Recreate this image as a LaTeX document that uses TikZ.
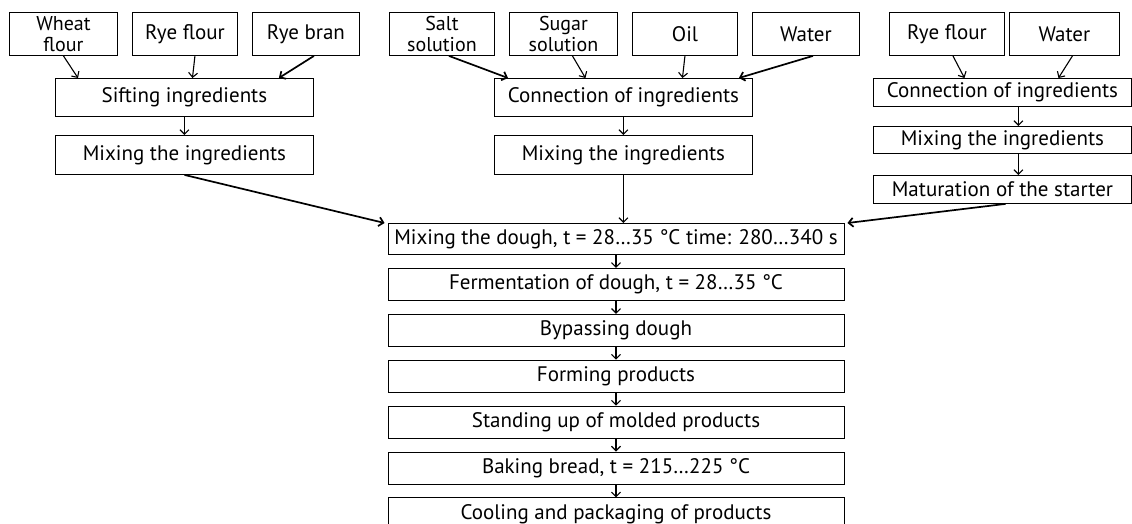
\documentclass[tikz,border=0pt]{standalone}
\usepackage{fontspec}
\setmainfont{PT Sans}
\usetikzlibrary{arrows.meta, positioning}

\begin{document}
\begin{tikzpicture}[
    x=1pt, y=-1pt,
    node distance=13pt,
    box/.style={rectangle, draw, line width=0.9pt, inner sep=0pt, align=center, anchor=north west,
        font=\fontsize{21}{18.5}\selectfont},
    twoline/.style={box, font=\fontsize{20}{20.5}\selectfont},
    stage/.style={box, anchor=north, minimum width=456pt, minimum height=32pt},
    arrow/.style={-{Straight Barb[length=4.5pt,width=9pt]}, line width=1.1pt},
    bold/.style={arrow, line width=1.7pt}
]
\clip (0,0) rectangle (1132,523);
\useasboundingbox (0,0) rectangle (1132,523);

% raw materials, left branch
\node[twoline, minimum width=108pt, minimum height=43pt] (wheat) at (9,12) {Wheat\\flour};
\node[box, minimum width=105pt, minimum height=43pt] (ryeflour) at (132,12) {Rye flour};
\node[box, minimum width=107pt, minimum height=43pt] (ryebran) at (252,12) {Rye bran};
\node[box, minimum width=258pt, minimum height=38pt] (sift) at (55,78) {Sifting ingredients};
\node[box, minimum width=258pt, minimum height=39pt] (mixL) at (55,135) {Mixing the ingredients};

% solutions, middle branch
\node[twoline, minimum width=105pt, minimum height=43pt] (salt) at (389,12) {Salt\\solution};
\node[twoline, minimum width=108pt, minimum height=43pt] (sugar) at (509,12) {Sugar\\solution};
\node[box, minimum width=105pt, minimum height=43pt] (oil) at (632,12) {Oil};
\node[box, minimum width=107pt, minimum height=43pt] (water) at (752,12) {Water};
\node[box, minimum width=258pt, minimum height=38pt] (conn) at (494,78) {Connection of ingredients};
\node[box, minimum width=258pt, minimum height=39pt] (mixM) at (494,135) {Mixing the ingredients};

% starter, right branch
\node[box, minimum width=115pt, minimum height=43pt] (ryeflourS) at (889,12) {Rye flour};
\node[box, minimum width=110pt, minimum height=43pt] (waterS) at (1009,12) {Water};
\node[box, minimum width=258pt, minimum height=28pt] (connS) at (873,78) {Connection of ingredients};
\node[box, minimum width=258pt, minimum height=27pt] (mixS) at (873,126) {Mixing the ingredients};
\node[box, minimum width=258pt, minimum height=28pt] (mature) at (873,175) {Maturation of the starter};

% main line
\node[stage, minimum height=31pt] (dough) at (616,223) {Mixing the dough, t = 28\dots35 °C time: 280\dots340 s};
\node[stage, below=of dough] (ferm) {Fermentation of dough, t = 28\dots35 °C};
\node[stage, below=of ferm] (bypass) {Bypassing dough};
\node[stage, below=of bypass] (form) {Forming products};
\node[stage, below=of form] (stand) {Standing up of molded products};
\node[stage, below=of stand] (bake) {Baking bread, t = 215\dots225 °C};
\node[stage, below=of bake] (cool) {Cooling and packaging of products};

\draw[arrow] (wheat.south) -- ([xshift=23pt]sift.north west);
\draw[arrow] ([xshift=10pt]ryeflour.south) -- ([xshift=8pt]sift.north);
\draw[bold] ([xshift=8pt]ryebran.south) -- ([xshift=-35pt]sift.north east);
\draw[arrow] (sift.south) -- (mixL.north);
\draw[bold] (mixL.south) -- ([xshift=-3pt]dough.north west);

\draw[bold] ([xshift=7pt]salt.south) -- ([xshift=14pt]conn.north west);
\draw[arrow] ([xshift=9pt]sugar.south) -- ([xshift=-38pt]conn.north);
\draw[arrow] (oil.south) -- ([xshift=59pt]conn.north);
\draw[bold] ([xshift=7pt]water.south) -- ([xshift=-14pt]conn.north east);
\draw[arrow] (conn.south) -- (mixM.north);
\draw[arrow] (mixM.south) -- (mixM.south |- dough.north);

\draw[arrow] ([xshift=6pt]ryeflourS.south) -- ([xshift=-38pt]connS.north);
\draw[arrow] ([xshift=8pt]waterS.south) -- ([xshift=56pt]connS.north);
\draw[arrow] ([xshift=16pt]connS.south) -- ([xshift=16pt]mixS.north);
\draw[arrow] ([xshift=16pt]mixS.south) -- ([xshift=16pt]mature.north);
\draw[bold] ([xshift=3pt]mature.south) -- ([xshift=3pt]dough.north east);

\draw[arrow] (dough) -- (ferm);
\draw[arrow] (ferm) -- (bypass);
\draw[arrow] (bypass) -- (form);
\draw[arrow] (form) -- (stand);
\draw[arrow] (stand) -- (bake);
\draw[arrow] (bake) -- (cool);
\end{tikzpicture}
\end{document}
